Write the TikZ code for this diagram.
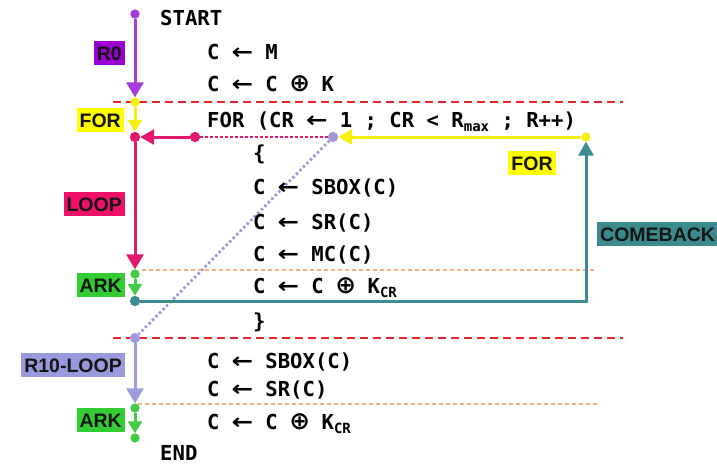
\documentclass[tikz,border=0pt]{standalone}
\usepackage{fontspec}
\usepackage{graphicx}
\usetikzlibrary{arrows.meta}
\newfontfamily\codefont{DejaVu Sans Mono}
\newfontfamily\symfont{DejaVu Sans}
\newfontfamily\labfont{Liberation Sans}
\definecolor{cpurple}{HTML}{A53BDB}
\definecolor{bpurple}{HTML}{9A00CF}
\definecolor{cyellow}{HTML}{F7EF12}
\definecolor{byellow}{HTML}{FFFF00}
\definecolor{cmag}{HTML}{E2186A}
\definecolor{bmag}{HTML}{F0106A}
\definecolor{cgreen}{HTML}{44CC44}
\definecolor{bgreen}{HTML}{33CC33}
\definecolor{cteal}{HTML}{3C8C91}
\definecolor{bteal}{HTML}{3A8A8E}
\definecolor{clav}{HTML}{9C9CDD}
\definecolor{blav}{HTML}{9999DD}
\definecolor{cred}{HTML}{E3242B}
\definecolor{corange}{HTML}{F4B183}
\definecolor{ltext}{HTML}{151515}
\newcommand\LA{\makebox[21pt]{\scalebox{1.25}[1.05]{\symfont\bfseries ←}}}
\newcommand\OPL{\makebox[19pt]{\scalebox{1.2}{\symfont\bfseries ⊕}}}
\newcommand\SUB[1]{\raisebox{-4pt}{\fontsize{14}{14}\selectfont #1}}
\tikzset{
  code/.style={anchor=base west, inner sep=0pt, font=\codefont\bfseries\fontsize{20.6}{24}\selectfont},
  lab/.style={fill=#1, text=ltext, inner xsep=3pt, inner ysep=4.5pt, text height=14.3pt, text depth=0pt, font=\labfont\bfseries\fontsize{19.5}{24}\selectfont},
  dot/.style={circle, fill=#1, inner sep=0pt, minimum size=10pt},
  sdot/.style={circle, fill=#1, inner sep=0pt, minimum size=9pt},
  flow/.style={draw=#1, line width=3pt},
  bighead/.style={-{Triangle[width=17pt,length=15pt]}},
  midhead/.style={-{Triangle[width=15pt,length=14pt]}},
  smallhead/.style={-{Triangle[width=14pt,length=12pt]}},
  reddash/.style={draw=cred, line width=1.7pt, dash pattern=on 8pt off 5pt},
  orangedash/.style={draw=corange, line width=1.1pt, dash pattern=on 4pt off 3pt},
  dotline/.style={draw=#1, line width=2.8pt, dash pattern=on 2.5pt off 2.5pt}
}
\begin{document}
\begin{tikzpicture}[x=1pt,y=-1pt]
\useasboundingbox[fill=white] (0,0) rectangle (717,466);

% separators
\coordinate (r1l) at (113,102); \coordinate (r1r) at (623,102);
\coordinate (r2l) at (113,338); \coordinate (r2r) at (623,338);
\coordinate (o1l) at (142,270); \coordinate (o1r) at (597,270);
\coordinate (o2l) at (138,404); \coordinate (o2r) at (597,404);
\draw[reddash] (r1l) -- (r1r);
\draw[reddash] (r2l) -- (r2r);
\draw[orangedash] (o1l) -- (o1r);
\draw[orangedash] (o2l) -- (o2r);

% dots
\node[sdot=cpurple] (P0) at (135,14) {};
\node[sdot=cyellow] (Y1) at (135,102) {};
\node[dot=cmag] (M1) at (135,137) {};
\node[dot=cmag] (M2) at (195,137) {};
\node[dot=clav] (L1) at (333,137) {};
\node[sdot=cyellow] (Y2) at (586,137) {};
\node[sdot=cgreen] (G1) at (135,274) {};
\node[dot=cteal] (T1) at (135,301) {};
\node[dot=clav] (L2) at (135,338) {};
\node[sdot=cgreen] (G2) at (135,408) {};
\node[sdot=cgreen] (G3) at (135,438) {};
\coordinate (TC) at (586,301);

% connectors
\draw[dotline=clav] (L1) -- (L2);
\draw[dotline=cmag] (M2) -- (L1);
\draw[flow=cpurple, bighead] (P0) -- (Y1);
\draw[flow=cyellow, smallhead] (Y1) -- (M1);
\draw[flow=cmag, midhead] (M2) -- (M1);
\draw[flow=cyellow, midhead] (Y2) -- (L1);
\draw[flow=cmag, bighead] (M1) -- (G1);
\draw[flow=cgreen, smallhead] (G1) -- (T1);
\draw[flow=cteal, midhead] (T1) -- (TC) -- (Y2);
\draw[flow=clav, bighead] (L2) -- (G2);
\draw[flow=cgreen, smallhead] (G2) -- (G3);
\node[sdot=cpurple] at (P0) {};
\node[sdot=cyellow] at (Y1) {};
\node[dot=cmag] at (M1) {};
\node[dot=cmag] at (M2) {};
\node[dot=clav] at (L1) {};
\node[sdot=cyellow] at (Y2) {};
\node[sdot=cgreen] at (G1) {};
\node[dot=cteal] at (T1) {};
\node[dot=clav] at (L2) {};
\node[sdot=cgreen] at (G2) {};
\node[sdot=cgreen] at (G3) {};

% labels
\node[lab=bpurple, anchor=east] (lR0) at (125,53) {R0};
\node[lab=byellow, anchor=east] (lFOR) at (124,120) {FOR};
\node[lab=bmag, anchor=east] (lLOOP) at (125,204) {LOOP};
\node[lab=bgreen, anchor=east] (lARK1) at (125,285) {ARK};
\node[lab=blav, anchor=east] (lR10) at (125,365) {R10-LOOP};
\node[lab=bgreen, anchor=east] (lARK2) at (125,420) {ARK};
\node[lab=byellow] (lFOR2) at (532,163) {FOR};
\node[lab=bteal, anchor=west] (lCB) at (597,234) {COMEBACK};

% code
\node[code] (t1) at (160,25.5) {START};
\node[code] (t2) at (207,59.5) {C \LA{} M};
\node[code] (t3) at (207,91.5) {C \LA{} C \OPL{} K};
\node[code] (t4) at (207,127.5) {FOR (CR \LA{} 1 ; CR < R\SUB{max} ; R++)};
\node[code] (t5) at (253,160) {\{};
\node[code] (t6) at (253,194.5) {C \LA{} SBOX(C)};
\node[code] (t7) at (253,229.5) {C \LA{} SR(C)};
\node[code] (t8) at (253,261.5) {C \LA{} MC(C)};
\node[code] (t9) at (253,293.5) {C \LA{} C \OPL{} K\SUB{CR}};
\node[code] (t10) at (253,328) {\}};
\node[code] (t11) at (207,368.5) {C \LA{} SBOX(C)};
\node[code] (t12) at (207,396.5) {C \LA{} SR(C)};
\node[code] (t13) at (207,429.5) {C \LA{} C \OPL{} K\SUB{CR}};
\node[code] (t14) at (160,460.5) {END};
\end{tikzpicture}
\end{document}
